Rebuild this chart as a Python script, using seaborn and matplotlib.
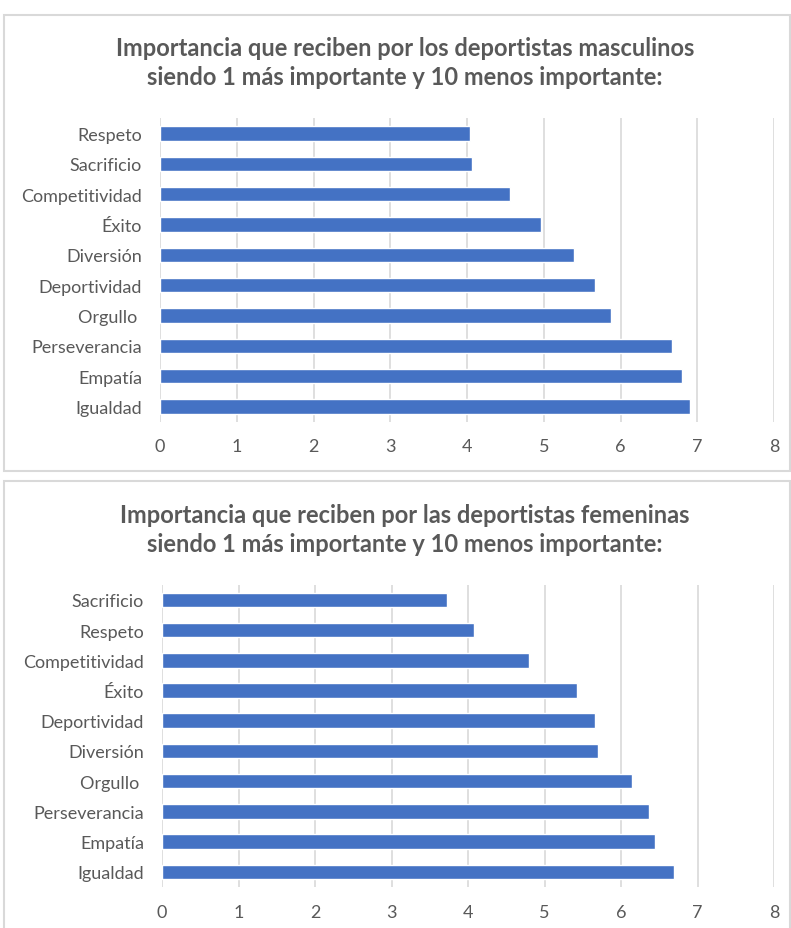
import matplotlib
matplotlib.use("Agg")
import matplotlib.pyplot as plt
import seaborn as sns
from matplotlib.patches import Rectangle

sns.set_style("white")
plt.rcParams['font.family'] = ['Lato', 'DejaVu Sans']

# Data
male_labels = ["Respeto", "Sacrificio", "Competitividad", "Éxito", "Diversión",
               "Deportividad", "Orgullo ", "Perseverancia", "Empatía", "Igualdad"]
male_values = [4.04, 4.06, 4.56, 4.97, 5.40, 5.67, 5.87, 6.67, 6.80, 6.91]

female_labels = ["Sacrificio", "Respeto", "Competitividad", "Éxito", "Deportividad",
                 "Diversión", "Orgullo ", "Perseverancia", "Empatía", "Igualdad"]
female_values = [3.72, 4.08, 4.80, 5.42, 5.66, 5.70, 6.14, 6.36, 6.44, 6.69]

x_ticks = [0, 1, 2, 3, 4, 5, 6, 7, 8]

title_male = "Importancia que reciben por los deportistas masculinos\nsiendo 1 más importante y 10 menos importante:"
title_female = "Importancia que reciben por las deportistas femeninas\nsiendo 1 más importante y 10 menos importante:"

W, H = 791, 929
bar_color = "#4472C4"
text_color = "#595959"
grid_color = "#d9d9d9"

fig = plt.figure(figsize=(W / 100, H / 100), dpi=100)


def px_rect(x0, y0, x1, y1):
    # pixel box (top-left origin) -> figure fraction [left, bottom, width, height]
    return [x0 / W, 1 - y1 / H, (x1 - x0) / W, (y1 - y0) / H]


def draw_chart(ax, labels, values):
    sns.barplot(x=values, y=labels, orient="h", color=bar_color, width=0.48,
                saturation=1, ax=ax, zorder=3)
    ax.set_xlim(0, 8)
    ax.set_xticks(x_ticks)
    ax.grid(axis="x", color=grid_color, linewidth=1.2, zorder=0)
    ax.set_axisbelow(True)
    for s in ax.spines.values():
        s.set_visible(False)
    ax.tick_params(axis="both", length=0, labelsize=13, colors=text_color)
    ax.tick_params(axis="y", pad=13)
    ax.tick_params(axis="x", pad=12)
    ax.set_xlabel("")
    ax.set_ylabel("")


# chart frames
for (y0, y1) in [(15.7, 472), (481.7, 935)]:
    fig.patches.append(Rectangle((4 / W, 1 - y1 / H), 786 / W, (y1 - y0) / H,
                                 transform=fig.transFigure, fill=False,
                                 edgecolor=grid_color, linewidth=1.5))

ax1 = fig.add_axes(px_rect(160, 119.3, 774, 422.7))
draw_chart(ax1, male_labels, male_values)

ax2 = fig.add_axes(px_rect(162, 585.7, 774, 888))
draw_chart(ax2, female_labels, female_values)

fig.text(405 / W, 1 - 63 / H, title_male, ha="center", va="center",
         fontsize=17, fontweight="bold", color=text_color, linespacing=1.3)
fig.text(405 / W, 1 - 530 / H, title_female, ha="center", va="center",
         fontsize=17, fontweight="bold", color=text_color, linespacing=1.3)

fig.savefig("out.png", dpi=100)
